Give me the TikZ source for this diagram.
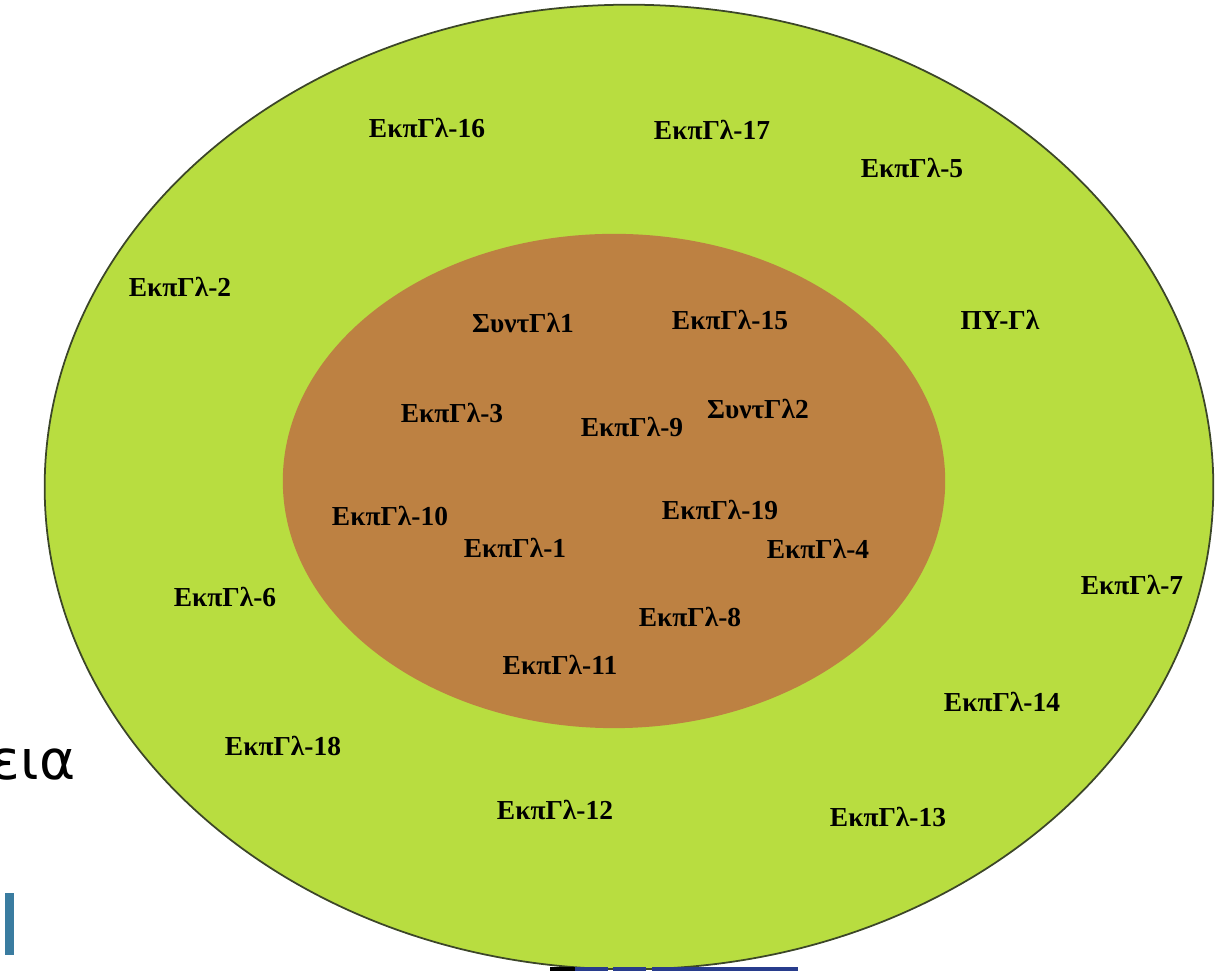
\documentclass[tikz,border=0pt]{standalone}
\usepackage{fontspec}
\setmainfont{Liberation Serif}
\newfontfamily\sidefont{DejaVu Sans}
\definecolor{ringgreen}{RGB}{184,221,64}
\definecolor{ringedge}{RGB}{60,70,40}
\definecolor{ringbrown}{RGB}{189,129,66}
\definecolor{barblue}{RGB}{58,124,160}
\definecolor{stripblue}{RGB}{40,60,140}

\begin{document}
\begin{tikzpicture}[x=0.01cm,y=-0.01cm,
    member/.style ={font=\bfseries\fontsize{7.8}{9}\selectfont, inner sep=0pt},
    outerring/.style ={fill=ringgreen, draw=ringedge, line width=0.5pt},
    innerring/.style ={fill=ringbrown}]
   \useasboundingbox (0,0) rectangle (1215,971);

   % the two rings
   \path[outerring] (629,487) ellipse [x radius=5.84cm, y radius=4.82cm];
   \path[innerring] (614,481) ellipse [x radius=3.31cm, y radius=2.47cm];

   % outer ring
   \node[member] (ekp16) at (427,128) {ΕκπΓλ-16};
   \node[member] (ekp17) at (712,130) {ΕκπΓλ-17};
   \node[member] (ekp5)  at (912,168) {ΕκπΓλ-5};
   \node[member] (ekp2)  at (180,287) {ΕκπΓλ-2};
   \node[member] (py)    at (1000,320) {ΠΥ-Γλ};
   \node[member] (ekp6)  at (225,597) {ΕκπΓλ-6};
   \node[member] (ekp7)  at (1132,585) {ΕκπΓλ-7};
   \node[member] (ekp14) at (1002,702) {ΕκπΓλ-14};
   \node[member] (ekp18) at (283,746) {ΕκπΓλ-18};
   \node[member] (ekp12) at (555,810) {ΕκπΓλ-12};
   \node[member] (ekp13) at (888,817) {ΕκπΓλ-13};

   % inner ring
   \node[member] (synt1) at (523,323) {ΣυντΓλ1};
   \node[member] (ekp15) at (730,320) {ΕκπΓλ-15};
   \node[member] (ekp3)  at (452,413) {ΕκπΓλ-3};
   \node[member] (ekp9)  at (632,427) {ΕκπΓλ-9};
   \node[member] (synt2) at (758,409) {ΣυντΓλ2};
   \node[member] (ekp10) at (390,516) {ΕκπΓλ-10};
   \node[member] (ekp19) at (720,510) {ΕκπΓλ-19};
   \node[member] (ekp1)  at (515,548) {ΕκπΓλ-1};
   \node[member] (ekp4)  at (818,549) {ΕκπΓλ-4};
   \node[member] (ekp8)  at (690,617) {ΕκπΓλ-8};
   \node[member] (ekp11) at (560,665) {ΕκπΓλ-11};

   % cut-off slide leftovers
   \node[anchor=base east, inner sep=0pt, font=\sidefont\fontsize{15.6}{16}\selectfont] (sidetext) at (76,780) {εια};
   \fill[barblue] (5,893) rectangle (14,955);
   \fill[black] (550,967) rectangle (575,971);
   \fill[stripblue] (575,967) rectangle (608,971);
   \fill[stripblue] (613,967) rectangle (646,971);
   \fill[stripblue] (652,967) rectangle (798,971);
\end{tikzpicture}
\end{document}
